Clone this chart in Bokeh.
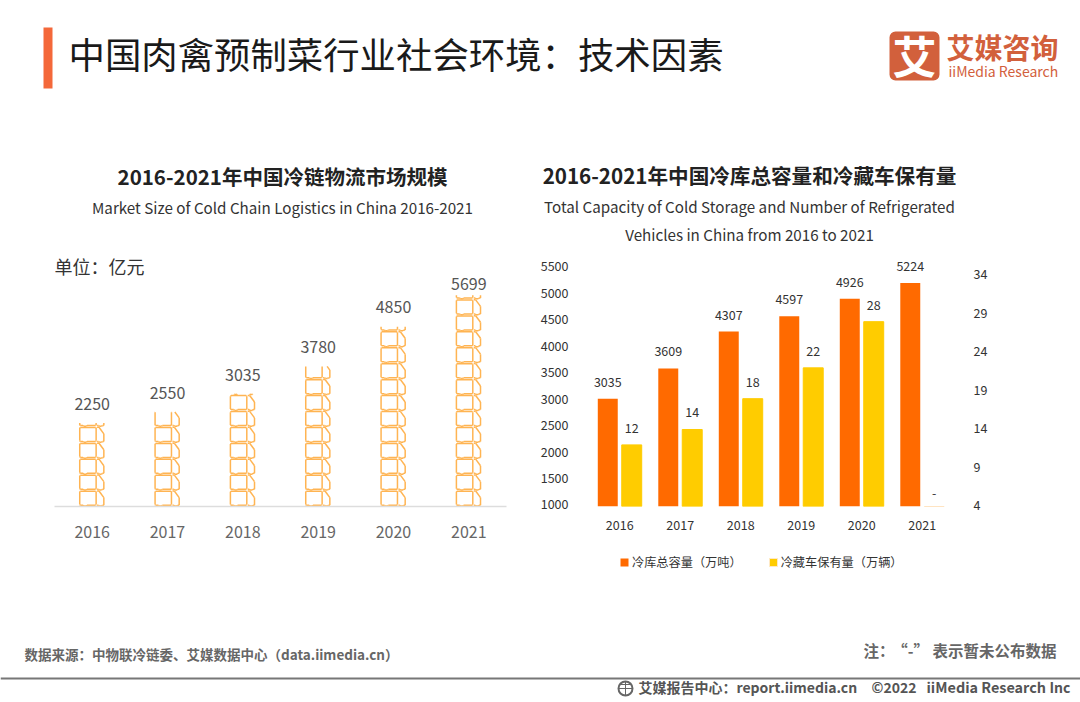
from bokeh.plotting import figure
from bokeh.layouts import column, row
from bokeh.models import Range1d, LinearAxis, FixedTicker, Legend, LegendItem, ColumnDataSource, FactorRange
from bokeh.transform import dodge
from bokeh.core.properties import value
from bokeh.embed import file_html
from bokeh.resources import INLINE

CJK = "Noto Sans CJK SC"

years = ["2016", "2017", "2018", "2019", "2020", "2021"]
market_size = [2250, 2550, 3035, 3780, 4850, 5699]
cold_storage = [3035, 3609, 4307, 4597, 4926, 5224]
vehicles = [12, 14, 18, 22, 28, None]
left_ticks = [1000, 1500, 2000, 2500, 3000, 3500, 4000, 4500, 5000, 5500]
right_ticks = [4, 9, 14, 19, 24, 29, 34]


def blank(width, height, x_range, y_range, **kw):
    p = figure(width=width, height=height, x_range=x_range, y_range=y_range,
               output_backend="svg", toolbar_location=None, **kw)
    p.grid.visible = False
    p.outline_line_color = None
    p.background_fill_color = "white"
    p.border_fill_color = "white"
    return p


def put(p, x, y, s, size, color="#333333", style="normal", align="left"):
    p.text(x=[x], y=[y], text=[s], text_font=value(CJK), text_font_size=f"{size}px",
           text_color=color, text_font_style=style, text_align=align, text_baseline="middle")


# ---------- header: page y 0..248 ----------
head = blank(1080, 248, Range1d(0, 1080), Range1d(248, 0), min_border=0)
head.axis.visible = False
head.quad(left=[43], right=[52], top=[27], bottom=[88], color="#f4683a", line_color=None)
put(head, 68, 52, "中国肉禽预制菜行业社会环境：技术因素", 36.4, "#1a1a1a", "normal")
head.quad(left=[889], right=[939], top=[31], bottom=[80], color="#d2603c", line_color=None, border_radius=6)
put(head, 914, 54, "艾", 44, "white", "bold", "center")
put(head, 946, 46, "艾媒咨询", 28, "#d2603c", "bold")
put(head, 948, 70, "iiMedia Research", 14, "#d2603c", "normal")
put(head, 282, 175, "2016-2021年中国冷链物流市场规模", 20.5, "#222222", "bold", "center")
put(head, 282, 206, "Market Size of Cold Chain Logistics in China 2016-2021", 15.2, "#333333", "normal", "center")
put(head, 749, 174, "2016-2021年中国冷库总容量和冷藏车保有量", 20.6, "#222222", "bold", "center")
put(head, 749, 205, "Total Capacity of Cold Storage and Number of Refrigerated", 15.2, "#333333", "normal", "center")
put(head, 749, 233, "Vehicles in China from 2016 to 2021", 15.2, "#333333", "normal", "center")

# ---------- left chart: pictorial truck columns ----------
left = blank(530, 297, Range1d(0, 6), Range1d(0, 6962),
             min_border_left=54, min_border_right=24, min_border_top=0, min_border_bottom=38)
left.yaxis.visible = False
left.xaxis.ticker = FixedTicker(ticks=[i + 0.5 for i in range(6)])
left.xaxis.major_label_overrides = {i + 0.5: y for i, y in enumerate(years)}
left.xaxis.major_tick_line_color = None
left.xaxis.minor_tick_line_color = None
left.xaxis.axis_line_color = "#dddddd"
left.xaxis.axis_line_width = 1.5
left.xaxis.major_label_standoff = 13
left.xaxis.major_label_text_font = CJK
left.xaxis.major_label_text_font_size = "16px"
left.xaxis.major_label_text_color = "#666666"

# truck outline in unit coordinates of one repeated symbol
truck = [
    [(0.14, 0.08), (0.02, 0.08), (0.0, 0.12), (0.0, 0.92), (0.02, 0.96), (0.66, 0.96), (0.68, 0.92), (0.68, 0.12), (0.66, 0.08), (0.30, 0.08), (0.27, 0.03), (0.17, 0.03), (0.14, 0.08)],
    [(0.72, 0.97), (0.80, 0.97), (1.0, 0.56), (1.0, 0.08), (0.94, 0.08), (0.91, 0.03), (0.81, 0.03), (0.78, 0.08), (0.72, 0.08)],
]
SYM_H, SYM_W = 430.0, 0.32
xs0, ys0, xs1, ys1 = [], [], [], []
for i, v in enumerate(market_size):
    cx = i + 0.5 - 0.005
    k = 0
    while k * SYM_H < v:
        for poly in truck:
            for (a, b), (c, d) in zip(poly, poly[1:]):
                y0, y1 = (k + b) * SYM_H, (k + d) * SYM_H
                x0, x1 = cx + (a - 0.5) * SYM_W, cx + (c - 0.5) * SYM_W
                if y0 > v and y1 > v:
                    continue
                if y0 > v:
                    t = (v - y1) / (y0 - y1)
                    x0, y0 = x1 + (x0 - x1) * t, v
                elif y1 > v:
                    t = (v - y0) / (y1 - y0)
                    x1, y1 = x0 + (x1 - x0) * t, v
                xs0.append(x0); ys0.append(y0); xs1.append(x1); ys1.append(y1)
        k += 1
left.segment(xs0, ys0, xs1, ys1, line_color="#ffb452", line_width=1.5)
left.text(x=[i + 0.5 for i in range(6)], y=market_size, text=[str(v) for v in market_size],
          text_font=value(CJK), text_font_size="16px", text_color="#555555",
          text_align="center", text_baseline="middle",
          y_offset=[-19, -19, -19, -19, -20, -11])
left.text(x=[0], y=[6480], text=["单位：亿元"], text_font=value(CJK), text_font_size="18px",
          text_color="#333333", text_align="left", text_baseline="middle")

# ---------- right chart: dual-axis columns ----------
right = blank(550, 297, FactorRange(factors=years), Range1d(1000, 5877),
              min_border_left=59, min_border_right=128, min_border_top=0, min_border_bottom=39)
right.x_range.range_padding = 0
right.extra_y_ranges = {"y2": Range1d(4, 37.5),
                        "left_ticks": Range1d(962, 5839),
                        "right_ticks": Range1d(3.87, 37.37)}
right.yaxis[0].y_range_name = "left_ticks"
right.yaxis.ticker = FixedTicker(ticks=left_ticks)
axis2 = LinearAxis(y_range_name="right_ticks", ticker=FixedTicker(ticks=right_ticks))
right.add_layout(axis2, "right")
for ax in [right.yaxis[0], axis2]:
    ax.axis_line_color = None
    ax.major_tick_line_color = None
    ax.minor_tick_line_color = None
    ax.major_label_standoff = 15
    ax.major_label_text_font = CJK
    ax.major_label_text_font_size = "12.5px"
    ax.major_label_text_color = "#333333"
right.xaxis.axis_line_color = None
right.xaxis.major_tick_line_color = None
right.xaxis.minor_tick_line_color = None
right.xaxis.major_label_standoff = 7
right.xaxis.major_label_text_font = CJK
right.xaxis.major_label_text_font_size = "12.5px"
right.xaxis.major_label_text_color = "#333333"

src = ColumnDataSource(dict(
    year=years,
    storage=cold_storage,
    storage_label=[str(v) for v in cold_storage],
    veh=[v if v is not None else 4 for v in vehicles],
    veh_label=[str(v) if v is not None else "-" for v in vehicles],
    veh_color=["#ffcc00" if v is not None else "#ffdcae" for v in vehicles],
    veh_off=[-17 if v is not None else -14 for v in vehicles],
))
right.vbar(x=dodge("year", -0.198, range=right.x_range), top="storage", bottom=1000, width=0.33,
           source=src, color="#ff6a00", line_color=None)
right.vbar(x=dodge("year", 0.198, range=right.x_range), top="veh", bottom=4, width=0.33,
           source=src, fill_color="#ffcc00", line_color="veh_color", line_width=1, y_range_name="y2")
right.text(x=dodge("year", -0.198, range=right.x_range), y="storage", text="storage_label", source=src,
           text_font=value(CJK), text_font_size="12.5px", text_color="#333333",
           text_align="center", text_baseline="middle", y_offset=-17)
right.text(x=dodge("year", 0.198, range=right.x_range), y="veh", text="veh_label", source=src,
           text_font=value(CJK), text_font_size="12.5px", text_color="#333333",
           text_align="center", text_baseline="middle", y_offset="veh_off", y_range_name="y2")

# ---------- footer: page y 545..702, holds the legend ----------
foot = blank(1080, 157, Range1d(0, 1080), Range1d(702, 545), min_border=0)
foot.axis.visible = False
# legend keys: the glyphs themselves sit outside the visible range
k1 = foot.quad(left=[-60], right=[-50], top=[-60], bottom=[-50], color="#ff6a00", line_color=None)
k2 = foot.quad(left=[-60], right=[-50], top=[-60], bottom=[-50], color="#ffcc00", line_color="#ffe9c4")
legend = Legend(items=[LegendItem(label="冷库总容量（万吨）", renderers=[k1]),
                       LegendItem(label="冷藏车保有量（万辆）", renderers=[k2])],
                orientation="horizontal", location=(619, 131), padding=0, margin=0,
                glyph_width=10, glyph_height=10, label_standoff=3, spacing=26,
                background_fill_alpha=0, border_line_color=None,
                label_text_font=CJK, label_text_font_size="12.2px", label_text_color="#333333")
foot.add_layout(legend, "center")
put(foot, 24, 653, "数据来源：中物联冷链委、艾媒数据中心（data.iimedia.cn）", 13.5, "#666666", "bold")
put(foot, 863, 649, "注：", 15.5, "#666666", "bold")
put(foot, 1056, 649, "“-” 表示暂未公布数据", 15.5, "#666666", "bold", "right")
foot.segment([0], [678], [1080], [678], line_color="#777777", line_width=2)
foot.scatter([625], [688], size=14, fill_color=None, line_color="#666666", line_width=2)
foot.segment([618, 625, 620], [688, 681, 684], [632, 625, 630], [688, 695, 684], line_color="#666666", line_width=1)
put(foot, 638, 686, "艾媒报告中心：report.iimedia.cn", 14, "#555555", "bold")
put(foot, 871, 686, "©2022", 14, "#555555", "bold")
put(foot, 926, 686, "iiMedia Research", 14.4, "#555555", "bold")
put(foot, 1049, 686, "Inc", 14, "#555555", "bold")

page = column(head, row(left, right, spacing=0), foot, spacing=0)
open("out.html", "w").write(file_html(page, INLINE))
